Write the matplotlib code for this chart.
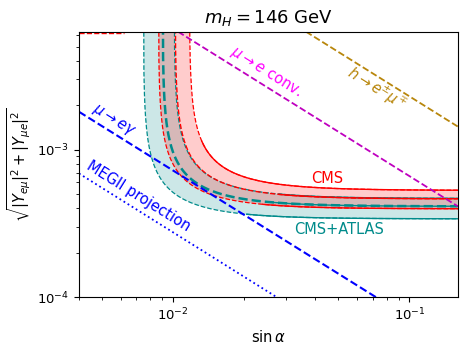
import numpy as np
import matplotlib
matplotlib.use('Agg')
import matplotlib.pyplot as plt

# ---- data ----
# band boundaries: vertical asymptote s0 (sin alpha) and large-s plateau Yinf
cms_s0 = [0.00867, 0.0102, 0.01172]          # lower, central, upper
cms_yinf = [3.975e-4, 4.64e-4, 5.30e-4]
cms_switch = [0.0239, 0.028, 0.0132]          # dashed -> solid
comb_s0 = [0.00749, 0.00903, 0.0101]
comb_yinf = [3.40e-4, 4.13e-4, 4.67e-4]
comb_switch = [0.0204, 0.0263, 0.028]

# constraint lines (end points)
meg_s, meg_y = [0.004, 0.0723], [1.807e-3, 1.0e-4]
megii_s, megii_y = [0.004, 0.0275], [6.9e-4, 1.0e-4]
conv_s, conv_y = [0.0105, 0.16], [6.3e-3, 4.14e-4]
hemu_s, hemu_y = [0.0365, 0.16], [6.3e-3, 1.436e-3]
top_s, top_y = [0.004, 0.0062], [6.2e-3, 6.2e-3]

xlim = (0.004, 0.16)
ylim = (1e-4, 6.3e-3)

red = 'red'
teal = 'darkcyan'

fig = plt.figure(figsize=(4.69, 3.51), dpi=100)
ax = fig.add_axes([0.1684, 0.153, 0.9759 - 0.1684, 0.9097 - 0.153])
ax.set_xscale('log')
ax.set_yscale('log')


def curve(s0, yinf, n=600):
    s = np.logspace(np.log10(s0 * 1.00001), np.log10(xlim[1]), n)
    return s, yinf * s / np.sqrt(s ** 2 - s0 ** 2)


def band(s0s, yinfs, switches, color, lw_center):
    sg = np.logspace(np.log10(s0s[0] * 1.00001), np.log10(xlim[1]), 1500)
    ylo = yinfs[0] * sg / np.sqrt(sg ** 2 - s0s[0] ** 2)
    with np.errstate(invalid='ignore'):
        yhi = yinfs[2] * sg / np.sqrt(sg ** 2 - s0s[2] ** 2)
    yhi = np.where(np.isnan(yhi) | (yhi > 1), 1, yhi)
    ax.fill_between(sg, ylo, yhi, color=color, alpha=0.2, lw=0)
    for i in range(3):
        s, y = curve(s0s[i], yinfs[i])
        lw = lw_center if i == 1 else 0.9
        ax.plot(s, y, color=color, ls='--', lw=lw)
        m = s >= switches[i]
        ax.plot(s[m], y[m], color=color, ls='-', lw=1.0)


band(comb_s0, comb_yinf, comb_switch, teal, 1.8)
band(cms_s0, cms_yinf, cms_switch, red, 1.0)

ax.plot(meg_s, meg_y, color='blue', ls='--', lw=1.5)
ax.plot(megii_s, megii_y, color='blue', ls=':', lw=1.3)
ax.plot(conv_s, conv_y, color='m', ls='--', lw=1.3)
ax.plot(hemu_s, hemu_y, color='darkgoldenrod', ls='--', lw=1.3)
ax.plot(top_s, top_y, color=red, ls='--', lw=1.0)

ax.set_xlim(*xlim)
ax.set_ylim(*ylim)

rot = -32
ax.text(0.494, 0.845, r'$\mu \to e$ conv.', color='magenta', rotation=rot,
        transform=ax.transAxes, ha='center', va='center', fontsize=10.5)
ax.text(0.785, 0.785, r'$h \to e^{\pm}\mu^{\mp}$', color='darkgoldenrod', rotation=rot,
        transform=ax.transAxes, ha='center', va='center', fontsize=10.5)
ax.text(0.092, 0.665, r'$\mu \to e\gamma$', color='blue', rotation=rot,
        transform=ax.transAxes, ha='center', va='center', fontsize=10.5)
ax.text(0.156, 0.380, 'MEGII projection', color='blue', rotation=rot,
        transform=ax.transAxes, ha='center', va='center', fontsize=10.5)
ax.text(0.655, 0.447, 'CMS', color=red,
        transform=ax.transAxes, ha='center', va='center', fontsize=10.5)
ax.text(0.686, 0.254, 'CMS+ATLAS', color=teal,
        transform=ax.transAxes, ha='center', va='center', fontsize=10.5)

ax.set_title(r'$m_H = 146$ GeV', fontsize=13)
ax.set_xlabel(r'$\sin\alpha$', fontsize=10.5)
ax.set_ylabel(r'$\sqrt{|Y_{e\mu}|^2 + |Y_{\mu e}|^2}$', fontsize=10.5)
ax.tick_params(labelsize=9.5)

fig.savefig('out.png', dpi=100)
